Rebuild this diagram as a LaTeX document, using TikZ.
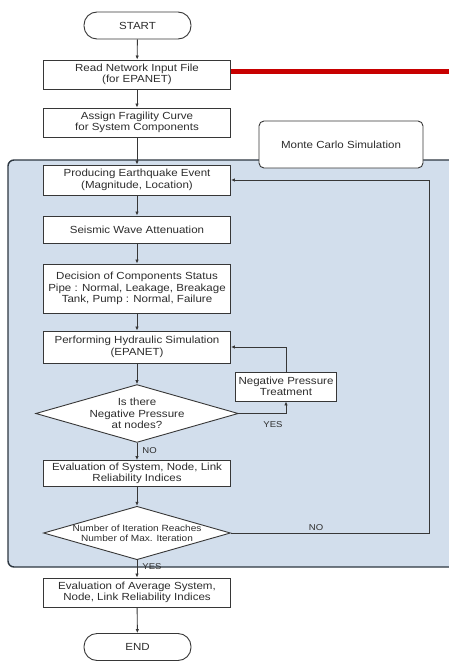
\documentclass[tikz,border=0pt]{standalone}
\usepackage{fontspec}
\setmainfont{Liberation Sans}[FakeStretch=1.12]
\usetikzlibrary{shapes.geometric,arrows.meta}
\definecolor{edge}{RGB}{55,55,55}
\definecolor{ink}{RGB}{45,45,45}
\definecolor{loopfill}{RGB}{210,222,236}
\definecolor{loopedge}{RGB}{45,55,65}
\definecolor{flagred}{RGB}{200,0,0}
\tikzset{
  base/.style={draw=edge, line width=0.9pt, fill=white, text=ink, align=center,
    font=\fontsize{10.3}{11.6}\selectfont, inner sep=0pt},
  stepbox/.style={base, minimum width=187pt},
  termbox/.style={base, rounded corners=13pt, minimum width=107pt, minimum height=27pt},
  choice/.style={base, diamond, aspect=3.5, minimum width=187pt},
  flow/.style={draw=edge, line width=0.9pt, -{Latex[length=4pt,width=3.5pt]}},
  lbl/.style={text=ink, font=\fontsize{8.5}{10}\selectfont, inner sep=1pt}
}
\begin{document}
\begin{tikzpicture}[x=1pt,y=-1pt]
\clip (0,0) rectangle (449,661);
\fill[white] (0,0) rectangle (449,661);

% Monte Carlo loop region
\draw[fill=loopfill, draw=loopedge, line width=1.4pt, rounded corners=6pt]
  (8,160) rectangle (470,567);
\node[base, rounded corners=5pt, minimum width=164pt, minimum height=47pt]
  (mc) at (341,144.5) {Monte Carlo Simulation};

% main column
\node[termbox] (start) at (137.5,25.5) {START};
\node[stepbox, minimum height=29pt] (read) at (137,74.5) {Read Network Input File\\(for EPANET)};
\node[stepbox, minimum height=29pt] (assign) at (137,122.5) {Assign Fragility Curve\\for System Components};
\node[stepbox, minimum height=30pt] (produce) at (137,180) {Producing Earthquake Event\\(Magnitude, Location)};
\node[stepbox, minimum height=27pt] (seismic) at (137,229.5) {Seismic Wave Attenuation};
\node[stepbox, minimum height=49pt] (decide) at (137,288.5) {Decision of Components Status\\Pipe : Normal, Leakage, Breakage\\Tank, Pump : Normal, Failure};
\node[stepbox, minimum height=32pt] (perform) at (137,347) {Performing Hydraulic Simulation\\(EPANET)};
\node[choice, minimum height=53pt] (neg) at (137,413.5) {Is there\\Negative Pressure\\at nodes?};
\node[base, minimum width=101pt, minimum height=29pt] (npt) at (286,386.5) {Negative Pressure\\Treatment};
\node[stepbox, minimum height=26pt] (eval) at (137,473.5) {Evaluation of System, Node, Link\\Reliability Indices};
\node[choice, minimum height=48pt, font=\fontsize{9}{10}\selectfont] (iter) at (137,533) {Number of Iteration Reaches\\Number of Max. Iteration};
\node[stepbox, minimum height=29pt] (avg) at (137,592.5) {Evaluation of Average System,\\Node, Link Reliability Indices};
\node[termbox] (end) at (137.5,647) {END};

% flow connectors
\draw[flow] (start) -- (read);
\draw[flow] (read) -- (assign);
\draw[flow] (assign) -- (produce);
\draw[flow] (produce) -- (seismic);
\draw[flow] (seismic) -- (decide);
\draw[flow] (decide) -- (perform);
\draw[flow] (perform) -- (neg);
\draw[flow] (neg) -- node[lbl, right, pos=0.45, xshift=4pt] {NO} (eval);
\draw[flow] (neg.east) -| node[lbl, pos=0.5, xshift=-13pt, yshift=-11pt] {YES} (npt.south);
\draw[flow] (npt.north) |- (perform.east);
\draw[flow] (eval) -- (iter);
\draw[flow] (iter) -- node[lbl, right, pos=0.35, xshift=4pt] {YES} (avg);
\coordinate (loopturn) at (429,533);
\draw[flow] (iter.east) -- node[lbl, above, pos=0.43, yshift=1pt] {NO} (loopturn) |- (produce.east);
\draw[flow] (avg) -- (end);

% highlight bar
\coordinate (barend) at (449,71.5);
\draw[flagred, line width=4pt] (read.east |- barend) -- (barend);
\end{tikzpicture}
\end{document}
